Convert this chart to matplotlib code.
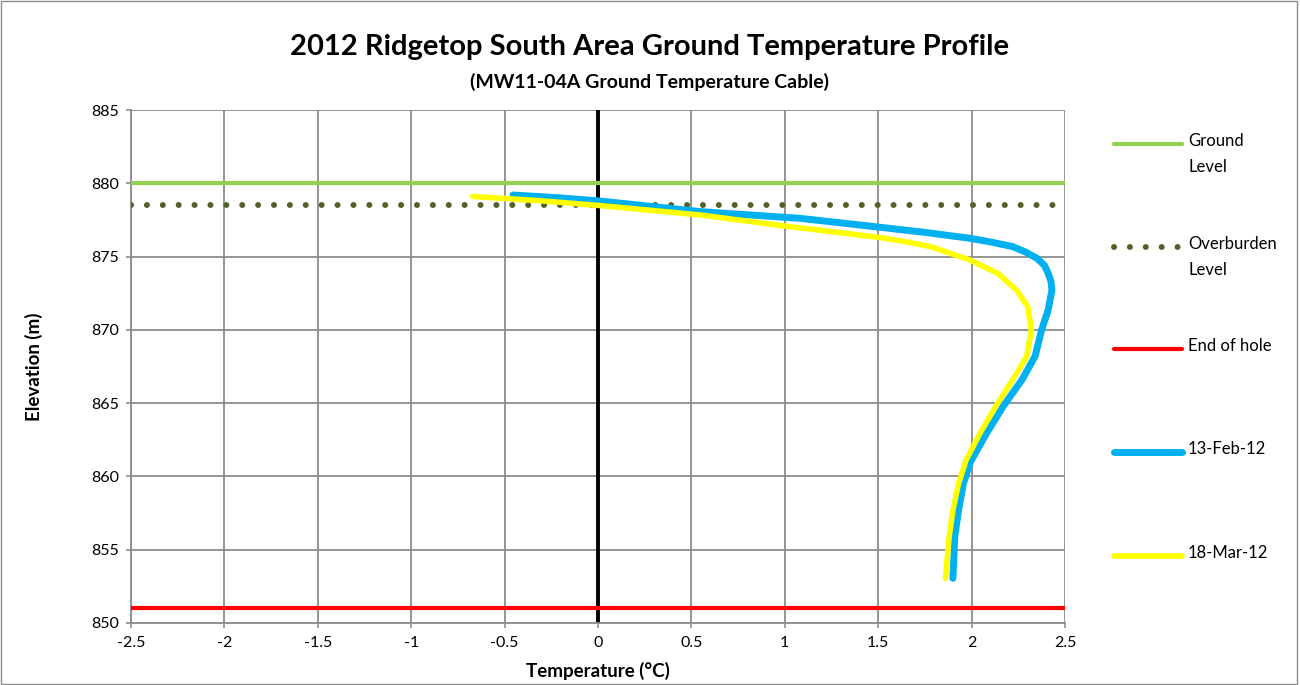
import matplotlib
matplotlib.use("Agg")
import matplotlib.pyplot as plt
from matplotlib.lines import Line2D
from matplotlib.patches import Rectangle

plt.rcParams['font.family'] = ['Lato', 'DejaVu Sans']

# Reference elevations (m)
ground_level = 880.0
overburden_level = 878.5
end_of_hole = 851.0

# Ground temperature cable profiles: temperature (°C) vs elevation (m)
feb_temp = [-0.455, -0.2, 0.01, 0.546, 1.081, 1.30, 1.51, 1.75, 1.99, 2.10, 2.22, 2.29, 2.35,
            2.39, 2.41, 2.425, 2.43, 2.41, 2.375, 2.34, 2.27, 2.17, 2.08, 1.99, 1.956, 1.93, 1.91, 1.90]
feb_elev = [879.2, 879.0, 878.79, 878.07, 877.61, 877.3, 877.0, 876.65, 876.25, 876.0, 875.68, 875.3, 874.88,
            874.4, 873.86, 873.3, 872.72, 871.36, 870.0, 868.2, 866.6, 864.8, 862.95, 860.9, 859.5, 857.7, 855.9, 853.05]

mar_temp = [-0.67, -0.3, 0.01, 0.546, 0.99, 1.25, 1.51, 1.65, 1.78, 1.99, 2.14, 2.24, 2.30,
            2.32, 2.295, 2.22, 2.13, 2.045, 1.97, 1.93, 1.90, 1.88, 1.86]
mar_elev = [879.1, 878.8, 878.48, 877.84, 877.1, 876.7, 876.3, 876.0, 875.68, 874.77, 873.86, 872.72, 871.6,
            870.0, 868.2, 866.6, 864.8, 862.95, 861.1, 859.5, 857.7, 855.9, 853.05]

x_ticks = [-2.5, -2, -1.5, -1, -0.5, 0, 0.5, 1, 1.5, 2, 2.5]
x_ticklabels = ['-2.5', '-2', '-1.5', '-1', '-0.5', '0', '0.5', '1', '1.5', '2', '2.5']
y_ticks = [850, 855, 860, 865, 870, 875, 880, 885]

c_ground = '#92D050'
c_over = '#4F6228'
c_end = '#FF0000'
c_feb = '#00B0F0'
c_mar = '#FFFF00'
c_grid = '#8C8C8C'

W, H = 1300.0, 685.0
fig = plt.figure(figsize=(13, 6.85), dpi=100)
fig.patches.append(Rectangle((0.001, 0.001), 0.997, 0.997, transform=fig.transFigure,
                             fill=False, edgecolor=c_grid, linewidth=1.0))

ax = fig.add_axes([131 / W, 1 - 623 / H, 934 / W, 513 / H])
ax.set_xlim(-2.5, 2.5)
ax.set_ylim(850, 885)
ax.set_xticks(x_ticks)
ax.set_xticklabels(x_ticklabels)
ax.set_yticks(y_ticks)
ax.grid(True, color=c_grid, linewidth=1.3)
ax.set_axisbelow(True)
for side in ['top', 'right']:
    ax.spines[side].set_visible(False)
for side in ['left', 'bottom']:
    ax.spines[side].set_color(c_grid)
    ax.spines[side].set_linewidth(1.3)
ax.tick_params(axis='both', direction='out', length=3.6, color=c_grid,
               labelsize=11.5, width=1.2)
ax.tick_params(axis='x', pad=6)
ax.tick_params(axis='y', pad=5)

ax.axvline(0, color='black', linewidth=2.8, zorder=2)
ax.axhline(ground_level, color=c_ground, linewidth=3.0, zorder=3)
ax.axhline(overburden_level, color=c_over, linewidth=4.3, linestyle=(0, (0.01, 2.65)),
           dash_capstyle='round', zorder=3)
ax.axhline(end_of_hole, color=c_end, linewidth=3.0, zorder=3)
ax.plot(feb_temp, feb_elev, color=c_feb, linewidth=5.0, solid_capstyle='round',
        solid_joinstyle='round', zorder=4)
ax.plot(mar_temp, mar_elev, color=c_mar, linewidth=4.0, solid_capstyle='round',
        solid_joinstyle='round', zorder=5)

ax.set_xlabel('Temperature (°C)', fontsize=13.5, fontweight='bold')
ax.xaxis.set_label_coords(0.5, -(662 - 623) / 513)
ax.set_ylabel('Elevation (m)', fontsize=13.5, fontweight='bold')
ax.yaxis.set_label_coords(-(131 - 43) / 934, 0.5)

fig.text(0.5, 1 - 47 / H, '2012 Ridgetop South Area Ground Temperature Profile',
         ha='center', va='center', fontsize=21, fontweight='bold')
fig.text(0.5, 1 - 82 / H, '(MW11-04A Ground Temperature Cable)',
         ha='center', va='center', fontsize=14, fontweight='bold')

# Legend entries down the right-hand margin
legend_items = [
    ('Ground\nLevel', c_ground, 3.0, '-', 144),
    ('Overburden\nLevel', c_over, 4.3, (0, (0.01, 2.65)), 247),
    ('End of hole', c_end, 3.0, '-', 349),
    ('13-Feb-12', c_feb, 5.0, '-', 452),
    ('18-Mar-12', c_mar, 4.0, '-', 556),
]
for label, col, lw, ls, ypix in legend_items:
    yf = 1 - ypix / H
    ln = Line2D([1114 / W, 1182 / W], [yf, yf], transform=fig.transFigure,
                color=col, linewidth=lw, linestyle=ls, solid_capstyle='round',
                dash_capstyle='round')
    fig.lines.append(ln)
    fig.text(1188 / W, yf + 11 / H, label, ha='left', va='top', fontsize=12,
             linespacing=1.75)

fig.savefig('out.png', dpi=100)
